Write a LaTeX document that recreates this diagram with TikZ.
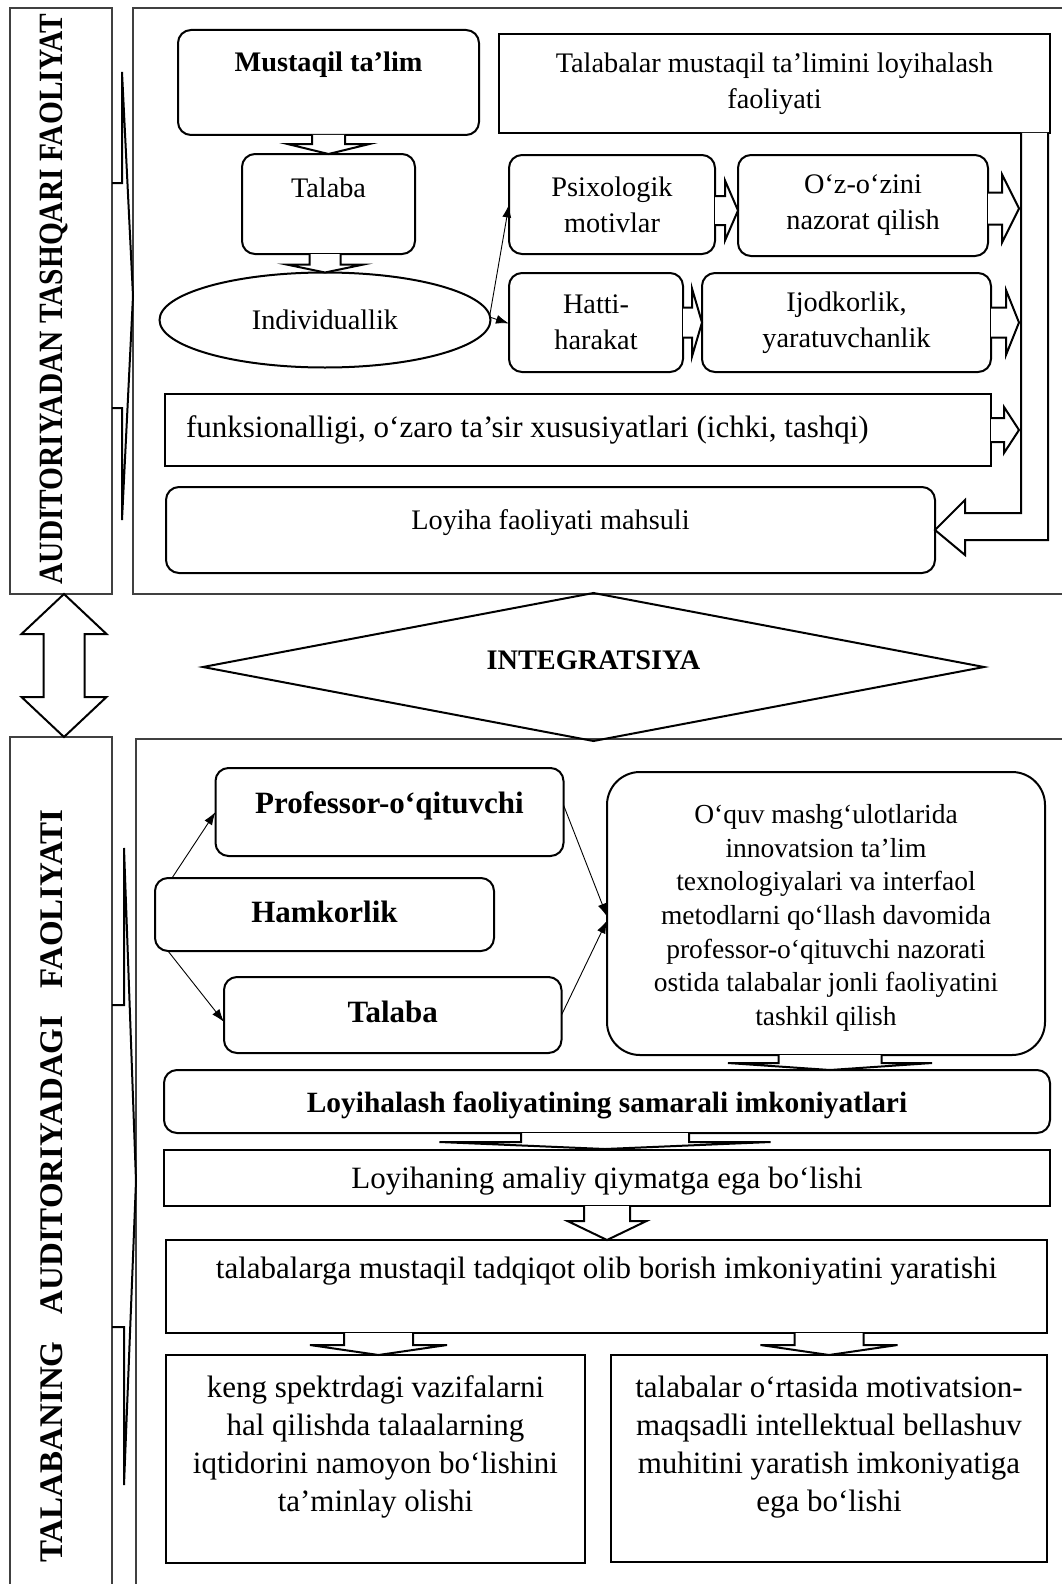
\documentclass[tikz,border=0pt]{standalone}
\usepackage{graphicx}
\usepackage{fontspec}
\setmainfont{Liberation Serif}
\usetikzlibrary{shapes.geometric,calc,arrows.meta}
\newcommand{\dblk}[5]{\draw[blk] let \p1=#1, \p2=#2 in ({\x2-#3pt},\y1) -- ({\x2-#3pt},{\y2+#5pt}) -- ({\x2-#4pt},{\y2+#5pt}) -- (\x2,\y2) -- ({\x2+#4pt},{\y2+#5pt}) -- ({\x2+#3pt},{\y2+#5pt}) -- ({\x2+#3pt},\y1);}
\newcommand{\rblk}[5]{\draw[blk] let \p1=#1, \p2=#2 in (\x1,{\y2+#3pt}) -- ({\x2-#5pt},{\y2+#3pt}) -- ({\x2-#5pt},{\y2+#4pt}) -- (\x2,\y2) -- ({\x2-#5pt},{\y2-#4pt}) -- ({\x2-#5pt},{\y2-#3pt}) -- (\x1,{\y2-#3pt});}
\begin{document}
\begin{tikzpicture}[x=1pt,y=-1pt,
  every node/.style={inner sep=0pt, outer sep=0pt},
  rbx/.style={draw, line width=2pt, rounded corners=13pt, align=center},
  sbx/.style={draw, line width=2pt, align=center},
  blk/.style={draw, line width=2pt, fill=white, line join=miter},
  tarr/.style={line width=0.9pt, -{Latex[length=13pt,width=9pt]}},
  panel/.style={draw, line width=1.3pt, black!75},
  fu/.style={font=\fontsize{28.3}{36}\selectfont},
  fub/.style={font=\bfseries\fontsize{28.3}{36}\selectfont},
  fl/.style={font=\fontsize{31}{38}\selectfont},
  flb/.style={font=\bfseries\fontsize{31}{38}\selectfont},
]
\useasboundingbox (0,0) rectangle (1061,1584);

% frames
\node[panel, minimum width=102pt, minimum height=586pt] (L1) at (61,301) {};
\node[panel, minimum width=102pt, minimum height=883pt] (L2) at (61,1178.5) {};
\node[panel, minimum width=947pt, minimum height=586pt] (P1) at (606.5,301) {};
\node[panel, minimum width=944pt, minimum height=881pt] (P2) at (608,1179.5) {};

\node[rotate=90, anchor=base, font=\bfseries\fontsize{34}{34}\selectfont] (t1) at (62,299) {\scalebox{0.865}[1]{AUDITORIYADAN TASHQARI FAOLIYAT}};
\node[rotate=90, anchor=base, font=\bfseries\fontsize{33}{33}\selectfont] (t2) at (62,1186) {TALABANING\hspace{27pt}AUDITORIYADAGI\hspace{27pt}FAOLIYATI};

% callouts
\draw[line width=2pt] ($(L1.north east)+(0,175)$) -- ++(10,0) -- ++(0,-111) -- ($(P1.north west)+(0,288)$) -- ++(-11,224) -- ++(0,-112) -- ++(-10,0);
\draw[line width=2pt] ($(L2.north east)+(0,268)$) -- ++(12,0) -- ++(0,-157) -- ($(P2.north west)+(0,442)$) -- ++(-12,304) -- ++(0,-158) -- ++(-12,0);

% double arrow between the two parts
\draw[blk] let \p1=($(L1.south)+(3,0)$), \p2=($(L2.north)+(3,0)$) in (\x1,\y1) -- ({\x1+42.5pt},{\y1-40pt}) -- ({\x1+20.5pt},{\y1-40pt}) -- ({\x1+20.5pt},{\y2+40pt}) -- ({\x1+42.5pt},{\y2+40pt}) -- (\x1,\y2) -- ({\x1-42.5pt},{\y2+40pt}) -- ({\x1-20.5pt},{\y2+40pt}) -- ({\x1-20.5pt},{\y1-40pt}) -- ({\x1-42.5pt},{\y1-40pt}) -- cycle;

% upper part
\node[rbx, fub, minimum width=301pt, minimum height=105pt, text height=42pt, text depth=63pt] (mt) at (328.5,82.5) {Mustaqil ta’lim};
\node[sbx, fu, minimum width=551pt, minimum height=99pt] (tr) at (774.5,83.5) {Talabalar mustaqil ta’limini loyihalash\\faoliyati};
\node[rbx, fu, minimum width=173pt, minimum height=100pt, text height=43pt, text depth=57pt] (tal1) at (328.5,204) {Talaba};
\node[draw, ellipse, line width=2pt, fu, minimum width=331pt, minimum height=95pt] (ind) at (325,320) {Individuallik};
\node[rbx, fu, minimum width=206pt, minimum height=99pt] (psi) at (612,204.5) {Psixologik\\motivlar};
\node[rbx, fu, minimum width=250pt, minimum height=101pt] (ozo) at (863,205.5) {O‘z-o‘zini\\nazorat qilish};
\node[rbx, fu, minimum width=174pt, minimum height=99pt] (hat) at (596,322.5) {Hatti-\\harakat};
\node[rbx, fu, minimum width=289pt, minimum height=99pt] (ijo) at (846.5,322.5) {Ijodkorlik,\\yaratuvchanlik};
\node[draw, line width=2pt, font=\fontsize{31}{38}\selectfont, minimum width=826pt, minimum height=72pt] (fun) at (578,430) {\makebox[784pt][l]{funksionalligi, o‘zaro ta’sir xususiyatlari (ichki, tashqi)}};
\node[rbx, fu, minimum width=769pt, minimum height=86pt, text height=42pt, text depth=44pt] (loy) at (550.5,530) {Loyiha faoliyati mahsuli};

\dblk{(mt.south)}{(tal1.north)}{16.5}{41}{10}
\dblk{(tal1.south)}{(ind.north)}{15.5}{38.5}{8}
\draw[tarr] ($(ind.east)+(-1,-3)$) -- (psi.west);
\draw[tarr] ($(ind.east)+(-1,-3)$) -- ($(hat.west)+(0,1)$);
\rblk{(psi.east)}{($(ozo.west)+(0,5)$)}{14.5}{30}{13}
\rblk{(ozo.east)}{($(ozo.east)+(31,3)$)}{16}{34}{17}
\rblk{(hat.east)}{(ijo.west)}{15}{34}{10}
\rblk{(ijo.east)}{($(ijo.east)+(28,0)$)}{15}{32.5}{13}
\rblk{(fun.east)}{($(fun.east)+(28,0)$)}{12}{23}{15}
\draw[blk] ($(tr.south east)+(-2,0)$) -- ($(tr.south east)+(-2,407)$) -- ($(loy.east)+(30,10)$) -- ($(loy.east)+(30,25)$) -- (loy.east) -- ($(loy.east)+(30,-30)$) -- ($(loy.east)+(30,-17)$) -- ($(tr.south east)+(-29,380)$) -- ($(tr.south east)+(-29,0)$);

% integration
\node[draw, diamond, aspect=5.277, line width=2pt, fub, minimum width=781pt, minimum height=148pt, text height=20pt, text depth=15pt] (integ) at (593.5,667) {INTEGRATSIYA};

% lower part
\node[rbx, flb, minimum width=348pt, minimum height=88pt, text height=45pt, text depth=43pt] (prof) at (389.5,812) {Professor-o‘qituvchi};
\node[rbx, flb, minimum width=339pt, minimum height=73pt, text height=44pt, text depth=29pt] (ham) at (324.5,914.5) {Hamkorlik};
\node[rbx, flb, minimum width=337.5pt, minimum height=76pt, text height=45pt, text depth=31pt] (tlb2) at (392.75,1015) {Talaba};
\node[rbx, rounded corners=33pt, font=\fontsize{27.5}{33.6}\selectfont, minimum width=438pt, minimum height=283pt] (oqv) at (826,913.5) {\rule{0pt}{28pt}O‘quv mashg‘ulotlarida\\innovatsion ta’lim\\texnologiyalari va interfaol\\metodlarni qo‘llash davomida\\professor-o‘qituvchi nazorati\\ostida talabalar jonli faoliyatini\\tashkil qilish};
\node[rbx, font=\bfseries\fontsize{29.4}{34}\selectfont, minimum width=886pt, minimum height=63pt, text height=42pt, text depth=21pt] (lsf) at (607,1101.5) {Loyihalash faoliyatining samarali imkoniyatlari};
\node[sbx, fl, minimum width=886pt, minimum height=56pt, text height=38pt, text depth=18pt] (lam) at (607,1178) {Loyihaning amaliy qiymatga ega bo‘lishi};
\node[sbx, fl, minimum width=881pt, minimum height=93pt, text height=38pt, text depth=55pt] (tmt) at (606.5,1286.5) {talabalarga mustaqil tadqiqot olib borish imkoniyatini yaratishi};
\node[sbx, fl, minimum width=419pt, minimum height=208pt] (kg) at (375.5,1459) {\parbox[c][208pt][t]{419pt}{\centering\rule{0pt}{42pt}keng spektrdagi vazifalarni\\hal qilishda talaalarning\\iqtidorini namoyon bo‘lishini\\ta’minlay olishi}};
\node[sbx, fl, minimum width=436pt, minimum height=207pt] (tlb) at (829,1458.5) {\parbox[c][207pt][t]{436pt}{\centering\rule{0pt}{42pt}talabalar o‘rtasida motivatsion-\\maqsadli intellektual bellashuv\\muhitini yaratish imkoniyatiga\\ega bo‘lishi}};

\draw[tarr] ($(ham.north west)+(17,0)$) -- (prof.west);
\draw[tarr] ($(ham.south west)+(13,0)$) -- ($(tlb2.west)+(0,7)$);
\draw[tarr] ($(prof.east)+(0,-7)$) -- ($(oqv.west)+(0,3)$);
\draw[tarr] (tlb2.east) -- ($(oqv.west)+(0,7)$);
\dblk{(oqv.south)}{($(oqv.south |- lsf.north)+(4,0)$)}{51.5}{102}{7}
\dblk{(lsf.south)}{($(lsf.south |- lam.north)+(-2,-1)$)}{84}{165.5}{7}
\dblk{(lam.south)}{(lam.south |- tmt.north)}{23}{39.5}{19}
\dblk{(tmt.south)}{($(kg.north)+(3,0)$)}{34.5}{68.5}{10}
\dblk{(tmt.south)}{(tlb.north)}{34.5}{68.5}{10}
\end{tikzpicture}
\end{document}
